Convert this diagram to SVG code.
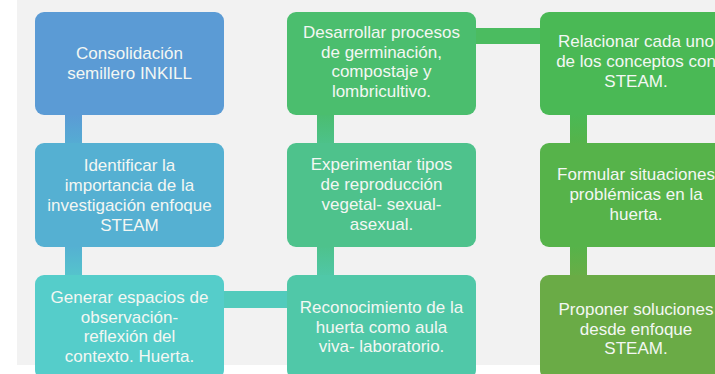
<svg xmlns="http://www.w3.org/2000/svg" width="715" height="374" viewBox="0 0 715 374">
<defs>
<style>
.box{stroke:none}
.t{font-family:"Liberation Sans",Arial,sans-serif;font-size:17px;fill:#f3f7f3;text-anchor:middle}
</style>
<linearGradient id="g1" x1="0" y1="0" x2="0" y2="1"><stop offset="0" stop-color="#5b9bd5"/><stop offset="1" stop-color="#55acd3"/></linearGradient>
<linearGradient id="g2" x1="0" y1="0" x2="0" y2="1"><stop offset="0" stop-color="#55b0d2"/><stop offset="1" stop-color="#55c4cc"/></linearGradient>
<linearGradient id="g3" x1="0" y1="0" x2="0" y2="1"><stop offset="0" stop-color="#4bbd70"/><stop offset="1" stop-color="#4dc28a"/></linearGradient>
<linearGradient id="g4" x1="0" y1="0" x2="0" y2="1"><stop offset="0" stop-color="#4ec28c"/><stop offset="1" stop-color="#50c7a6"/></linearGradient>
<linearGradient id="g5" x1="0" y1="0" x2="0" y2="1"><stop offset="0" stop-color="#4ab955"/><stop offset="1" stop-color="#55b34a"/></linearGradient>
<linearGradient id="g6" x1="0" y1="0" x2="0" y2="1"><stop offset="0" stop-color="#56b34a"/><stop offset="1" stop-color="#68ad46"/></linearGradient>
</defs>
<rect x="0" y="0" width="715" height="374" fill="#ffffff"/>
<rect x="17" y="0" width="698" height="365" fill="#f2f2f2"/>
<g id="connectors">
<rect x="65" y="114" width="17" height="30" fill="url(#g1)"/>
<rect x="65" y="246" width="17" height="30" fill="url(#g2)"/>
<rect x="223" y="291" width="65" height="17" fill="#52cbbc"/>
<rect x="317" y="246" width="17" height="30" fill="url(#g4)"/>
<rect x="317" y="114" width="17" height="30" fill="url(#g3)"/>
<rect x="475" y="28" width="66" height="16" fill="#4bbc60"/>
<rect x="570" y="114" width="17" height="30" fill="url(#g5)"/>
<rect x="570" y="246" width="17" height="30" fill="url(#g6)"/>
</g>
<g id="n1"><rect class="box" x="35" y="12" width="189" height="103" rx="9" fill="#5b9bd5"/>
<text class="t" x="129.5" y="59">Consolidación</text><text class="t" x="129.5" y="79">semillero INKILL</text></g>
<g id="n2"><rect class="box" x="35" y="143" width="189" height="104" rx="9" fill="#55b0d2"/>
<text class="t" x="129.5" y="171">Identificar la</text><text class="t" x="129.5" y="191">importancia de la</text><text class="t" x="129.5" y="211">investigación enfoque</text><text class="t" x="129.5" y="231">STEAM</text></g>
<g id="n3"><rect class="box" x="35" y="275" width="189" height="104" rx="9" fill="#55cdca"/>
<text class="t" x="129.5" y="303">Generar espacios de</text><text class="t" x="129.5" y="323">observación-</text><text class="t" x="129.5" y="342">reflexión del</text><text class="t" x="129.5" y="362">contexto. Huerta.</text></g>
<g id="n4"><rect class="box" x="287" y="275" width="189" height="104" rx="9" fill="#50c8a8"/>
<text class="t" x="381.5" y="313">Reconocimiento de la</text><text class="t" x="381.5" y="333">huerta como aula</text><text class="t" x="381.5" y="352">viva- laboratorio.</text></g>
<g id="n5"><rect class="box" x="287" y="143" width="189" height="104" rx="9" fill="#4ec28c"/>
<text class="t" x="381.5" y="170">Experimentar tipos</text><text class="t" x="381.5" y="190">de reproducción</text><text class="t" x="381.5" y="210">vegetal- sexual-</text><text class="t" x="381.5" y="230">asexual.</text></g>
<g id="n6"><rect class="box" x="287" y="12" width="189" height="103" rx="9" fill="#4bbe6e"/>
<text class="t" x="381.5" y="38">Desarrollar procesos</text><text class="t" x="381.5" y="58">de germinación,</text><text class="t" x="381.5" y="77">compostaje y</text><text class="t" x="381.5" y="97">lombricultivo.</text></g>
<g id="n7"><rect class="box" x="540" y="12" width="189" height="103" rx="9" fill="#4ab955"/>
<text class="t" x="636" y="47">Relacionar cada uno</text><text class="t" x="636" y="67">de los conceptos con</text><text class="t" x="636" y="87">STEAM.</text></g>
<g id="n8"><rect class="box" x="540" y="143" width="189" height="104" rx="9" fill="#56b34a"/>
<text class="t" x="636" y="180">Formular situaciones</text><text class="t" x="636" y="200">problémicas en la</text><text class="t" x="636" y="220">huerta.</text></g>
<g id="n9"><rect class="box" x="540" y="275" width="189" height="104" rx="9" fill="#6aab46"/>
<text class="t" x="636" y="315">Proponer soluciones</text><text class="t" x="636" y="335">desde enfoque</text><text class="t" x="636" y="354">STEAM.</text></g>
</svg>
